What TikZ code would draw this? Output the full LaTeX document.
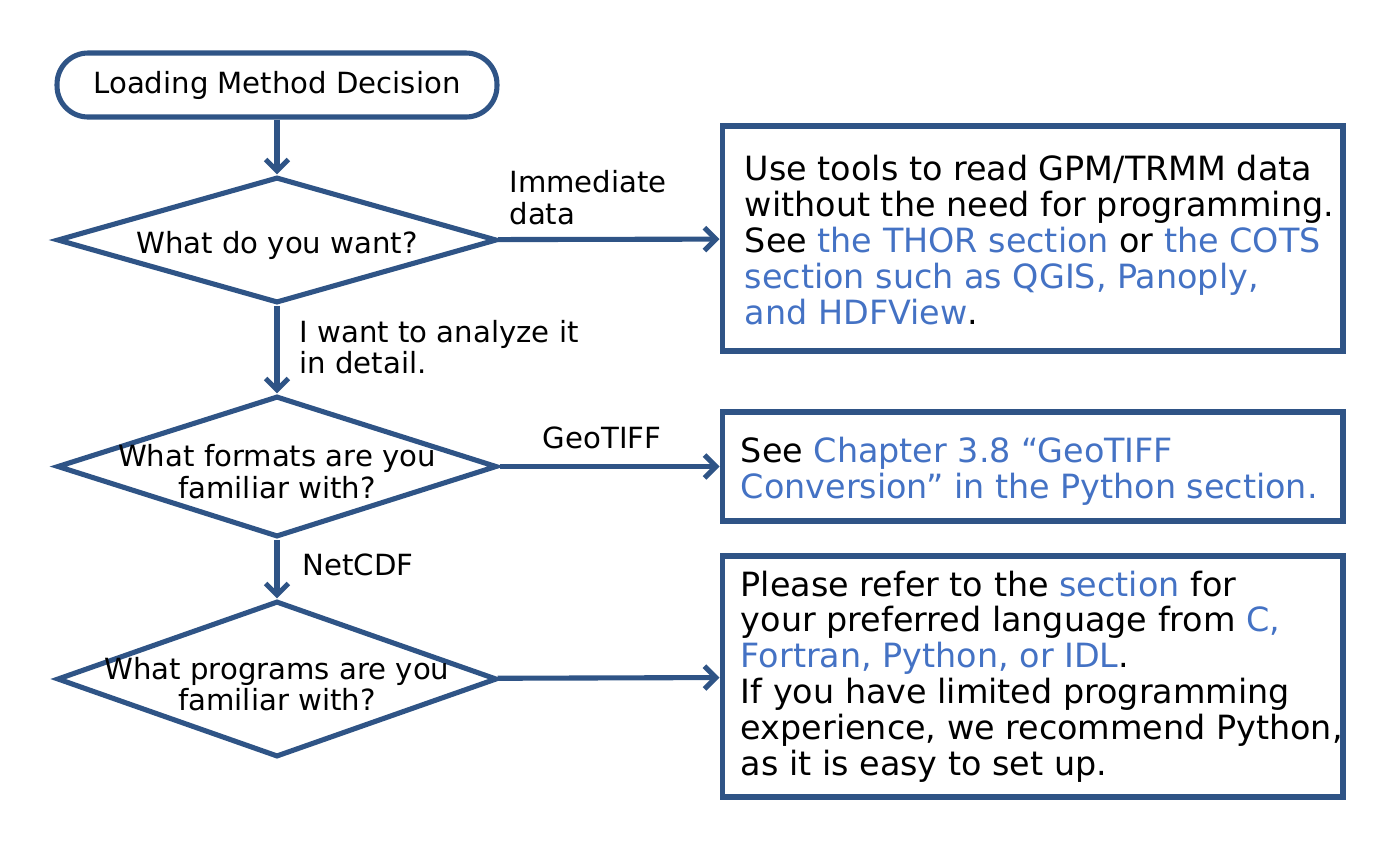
\documentclass[tikz,border=0pt]{standalone}
\usepackage{fontspec}
\setmainfont{DejaVu Sans}
\usetikzlibrary{arrows.meta,positioning,shapes.geometric}
\definecolor{navyline}{HTML}{2F5486}
\definecolor{linkblue}{HTML}{4472C4}
\newcommand{\linktext}[1]{\textcolor{linkblue}{#1}}
\tikzset{
  startbox/.style={
    draw=navyline,
    line width=2.9pt,
    rounded corners=0.62cm,
    minimum width=8.8cm,
    minimum height=1.28cm,
    font=\fontsize{16.6}{18}\selectfont
  },
  decision/.style={
    diamond,
    draw=navyline,
    line width=2.9pt,
    minimum width=8.8cm,
    inner sep=0pt
  },
  infobox/.style={
    draw=navyline,
    line width=2.9pt,
    minimum width=12.42cm,
    inner sep=0pt
  },
  infotext/.style={inner sep=0pt, align=left, font=\fontsize{19}{20.4}\selectfont},
  asktext/.style={inner sep=0pt, align=center, yshift=-0.1cm, font=\fontsize{16.6}{18}\selectfont},
  flowlabel/.style={inner sep=0pt, align=left, font=\fontsize{16.6}{18}\selectfont},
  flowarrow/.style={-{Straight Barb[length=6.5pt,width=13pt]},line width=2.9pt,draw=navyline}
}

\begin{document}
\begin{tikzpicture}[x=0.02cm,y=-0.02cm]
\useasboundingbox (0,0) rectangle (1400,850);
% left column: start and questions
\node[startbox] (start) at (277,85) {Loading Method Decision};
\node[decision,minimum height=2.52cm,label={[asktext]center:What do you want?}] (want) at (277,240) {};
\node[decision,minimum height=2.82cm,label={[asktext]center:{What formats are you\\familiar with?}}] (format) at (277,466.5) {};
\node[decision,minimum height=3.12cm,label={[asktext]center:{What programs are you\\familiar with?}}] (program) at (277,679) {};
% right column: answers
\node[infobox,minimum height=4.5cm] (toolsbox) at (1032.5,238.5) {};
\node[infobox,minimum height=2.18cm] (geotiffbox) at (1032.5,466.5) {};
\node[infobox,minimum height=4.82cm] (langbox) at (1032.5,676.5) {};
\node[infotext,right=0.5cm of toolsbox.west,yshift=-0.03cm] (toolstext) {Use tools to read GPM/TRMM data\\
  without the need for programming.\\
  See \linktext{the THOR section} or \linktext{the COTS}\\
  \linktext{section such as QGIS, Panoply,}\\
  \linktext{and HDFView}.};
\node[infotext,right=0.42cm of geotiffbox.west,yshift=-0.1cm] (geotifftext) {See \linktext{Chapter 3.8 “GeoTIFF}\\
  \linktext{Conversion” in the Python section.}};
\node[infotext,right=0.42cm of langbox.west] (langtext) {Please refer to the \linktext{section} for\\
  your preferred language from \linktext{C,}\\
  \linktext{Fortran, Python, or IDL}.\\
  If you have limited programming\\
  experience, we recommend Python,\\
  as it is easy to set up.};
% connectors
\draw[flowarrow] (start) -- (want);
\draw[flowarrow] (want) -- node[flowlabel,pos=0,anchor=south west,xshift=0.18cm,yshift=0.24cm] (immlabel) {Immediate\\data} (toolsbox);
\draw[flowarrow] (want) -- node[flowlabel,midway,anchor=west,xshift=0.4cm,yshift=0.05cm] (detaillabel) {I want to analyze it\\in detail.} (format);
\draw[flowarrow] (format) -- node[flowlabel,midway,anchor=south,xshift=-0.15cm,yshift=0.3cm] (geotifflabel) {GeoTIFF} (geotiffbox);
\draw[flowarrow] (format) -- node[flowlabel,midway,anchor=west,xshift=0.46cm,yshift=0.08cm] (netcdflabel) {NetCDF} (program);
\draw[flowarrow] (program) -- (langbox);
\end{tikzpicture}
\end{document}
